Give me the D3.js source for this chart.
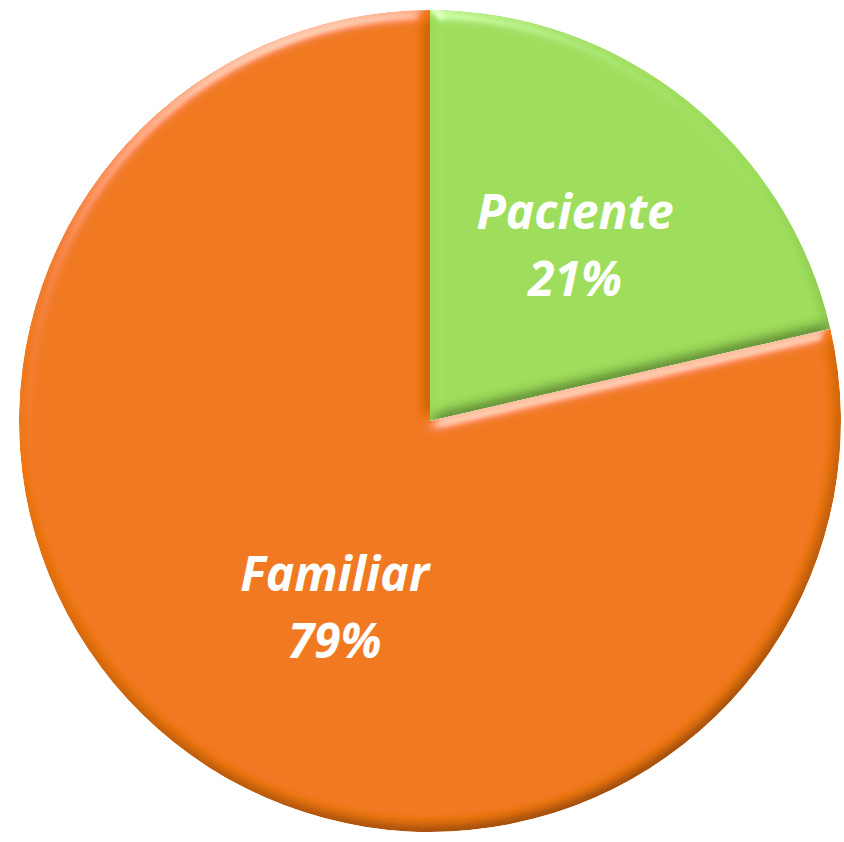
<!DOCTYPE html>
<html>
<head>
<meta charset="utf-8">
<script src="https://cdn.jsdelivr.net/npm/d3@7"></script>
<style>
  body { margin: 0; background: #fff; }
  svg { display: block; }
</style>
</head>
<body>
<div id="main"></div>
<script>
const categories = ["Paciente", "Familiar"];
const values = [21.4, 78.6];
const labels = ["21%", "79%"];
const colors = ["#9ddd5a", "#f07712"];

const ctx = { width: 844, height: 842, cx: 430, cy: 421, r: 411 };

const svg = d3.select("#main").append("svg")
    .attr("width", ctx.width)
    .attr("height", ctx.height);

const defs = svg.append("defs");

// bevel: darken edges facing away from the light, brighten edges facing it
const f = defs.append("filter")
    .attr("id", "bevel")
    .attr("x", "-5%").attr("y", "-5%")
    .attr("width", "110%").attr("height", "110%");
f.append("feGaussianBlur").attr("in", "SourceAlpha").attr("stdDeviation", 7).attr("result", "blur");
const dl = f.append("feDiffuseLighting")
    .attr("in", "blur")
    .attr("surfaceScale", 5)
    .attr("diffuseConstant", 1 / Math.sin(50 * Math.PI / 180))
    .attr("lighting-color", "#fff")
    .attr("result", "diff");
dl.append("feDistantLight").attr("azimuth", 250).attr("elevation", 50);
f.append("feComposite").attr("in", "SourceGraphic").attr("in2", "diff")
    .attr("operator", "arithmetic").attr("k1", 1).attr("result", "lit");
const sl = f.append("feSpecularLighting")
    .attr("in", "blur")
    .attr("surfaceScale", 5)
    .attr("specularConstant", 0.7)
    .attr("specularExponent", 40)
    .attr("lighting-color", "#fff")
    .attr("result", "spec");
sl.append("feDistantLight").attr("azimuth", 250).attr("elevation", 40);
f.append("feComposite").attr("in", "spec").attr("in2", "SourceAlpha").attr("operator", "in").attr("result", "specIn");
f.append("feComposite").attr("in", "specIn").attr("in2", "lit")
    .attr("operator", "arithmetic").attr("k2", 0.6).attr("k3", 1).attr("result", "out");
f.append("feComposite").attr("in", "out").attr("in2", "SourceAlpha").attr("operator", "in");

const pie = d3.pie().sort(null).value(d => d);
const arc = d3.arc().innerRadius(0).outerRadius(ctx.r);

const g = svg.append("g")
    .attr("transform", `translate(${ctx.cx},${ctx.cy})`);

g.selectAll(".slice")
    .data(pie(values))
    .enter()
    .append("path")
    .attr("class", "slice")
    .attr("d", arc)
    .attr("fill", (d, i) => colors[i])
    .attr("filter", "url(#bevel)");

// label positions: centroid plus a small nudge
const labelR = [217, 227];
const nudge = [[10, 10], [46, 25]];

const lab = g.selectAll(".lab")
    .data(pie(values))
    .enter()
    .append("text")
    .attr("class", "lab")
    .attr("transform", (d, i) => {
        const c = d3.arc().innerRadius(labelR[i]).outerRadius(labelR[i]).centroid(d);
        return `translate(${c[0] + nudge[i][0]},${c[1] + nudge[i][1]})`;
    })
    .attr("text-anchor", "middle")
    .style("font-family", "'Open Sans', sans-serif")
    .style("font-weight", "bold")
    .style("font-style", "italic")
    .style("font-size", "48px")
    .style("fill", "#fff");

lab.append("tspan").attr("x", 0).attr("y", "-0.68em").text((d, i) => categories[i]);
lab.append("tspan").attr("x", 0).attr("y", "0.72em").text((d, i) => labels[i]);
</script>
</body>
</html>
